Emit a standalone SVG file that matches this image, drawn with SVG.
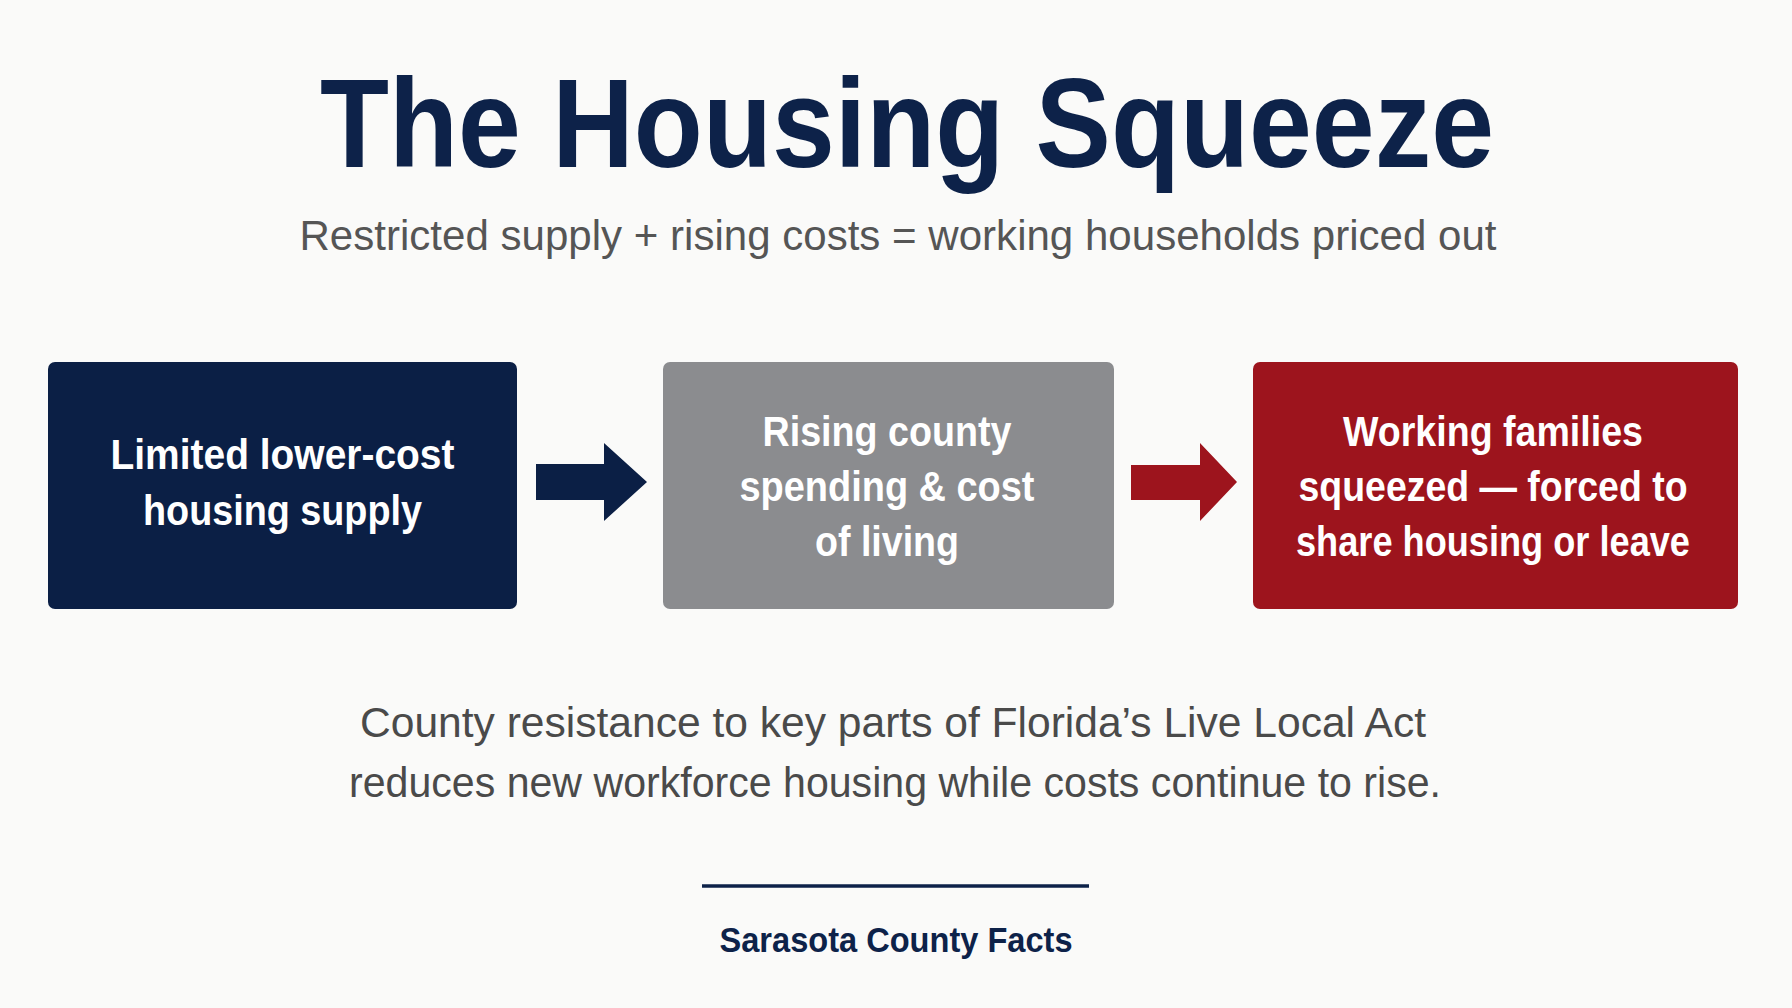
<svg xmlns="http://www.w3.org/2000/svg" width="1792" height="1008" viewBox="0 0 1792 1008">
  <style>
    .ttl { font-family: "Liberation Sans", Arial, sans-serif; font-weight: 700; fill: #0d2249; }
    .sub { font-family: "Liberation Sans", Arial, sans-serif; font-weight: 400; fill: #555555; }
    .lbl { font-family: "Liberation Sans", Arial, sans-serif; font-weight: 700; fill: #ffffff; font-size: 42px; text-anchor: middle; }
    .body { font-family: "Liberation Sans", Arial, sans-serif; font-weight: 400; fill: #4a4a4a; font-size: 42px; text-anchor: middle; }
    .foot { font-family: "Liberation Sans", Arial, sans-serif; font-weight: 700; fill: #0d2249; font-size: 35px; text-anchor: middle; }
  </style>
  <rect x="0" y="0" width="1792" height="1008" fill="#fafaf9"/>

  <g id="title">
    <text class="ttl" x="907" y="167" font-size="126" text-anchor="middle" textLength="1174" lengthAdjust="spacingAndGlyphs">The Housing Squeeze</text>
  </g>
  <g id="subtitle">
    <text class="sub" x="898" y="250" font-size="42" text-anchor="middle" textLength="1197" lengthAdjust="spacingAndGlyphs">Restricted supply + rising costs = working households priced out</text>
  </g>

  <g id="node-supply">
    <rect x="48" y="362" width="469" height="247" rx="7" fill="#0b1f45"/>
    <text class="lbl" x="282.5" y="469" textLength="344" lengthAdjust="spacingAndGlyphs">Limited lower-cost</text>
    <text class="lbl" x="282.5" y="525" textLength="279" lengthAdjust="spacingAndGlyphs">housing supply</text>
  </g>

  <g id="node-costs">
    <rect x="663" y="362" width="451" height="247" rx="7" fill="#8b8c8f"/>
    <text class="lbl" x="887" y="446" textLength="249" lengthAdjust="spacingAndGlyphs">Rising county</text>
    <text class="lbl" x="887" y="501" textLength="295" lengthAdjust="spacingAndGlyphs">spending &amp; cost</text>
    <text class="lbl" x="887" y="556" textLength="144" lengthAdjust="spacingAndGlyphs">of living</text>
  </g>

  <g id="node-families">
    <rect x="1253" y="362" width="485" height="247" rx="7" fill="#9d141d"/>
    <text class="lbl" x="1493" y="446" textLength="300" lengthAdjust="spacingAndGlyphs">Working families</text>
    <text class="lbl" x="1493" y="501" textLength="389" lengthAdjust="spacingAndGlyphs">squeezed — forced to</text>
    <text class="lbl" x="1493" y="556" textLength="394" lengthAdjust="spacingAndGlyphs">share housing or leave</text>
  </g>

  <g id="connectors">
    <polygon points="536,464 604,464 604,443 647,482 604,521 604,500 536,500" fill="#0b1f45"/>
    <polygon points="1131,465 1200,465 1200,443 1237,482 1200,521 1200,500 1131,500" fill="#9d141d"/>
  </g>

  <g id="note">
    <text class="body" x="893" y="737" textLength="1066" lengthAdjust="spacingAndGlyphs">County resistance to key parts of Florida’s Live Local Act</text>
    <text class="body" x="895" y="797" textLength="1092" lengthAdjust="spacingAndGlyphs">reduces new workforce housing while costs continue to rise.</text>
  </g>

  <g id="footer">
    <line x1="702" y1="886" x2="1089" y2="886" stroke="#0d2249" stroke-width="3.5"/>
    <text class="foot" x="896" y="952" textLength="353" lengthAdjust="spacingAndGlyphs">Sarasota County Facts</text>
  </g>
</svg>
